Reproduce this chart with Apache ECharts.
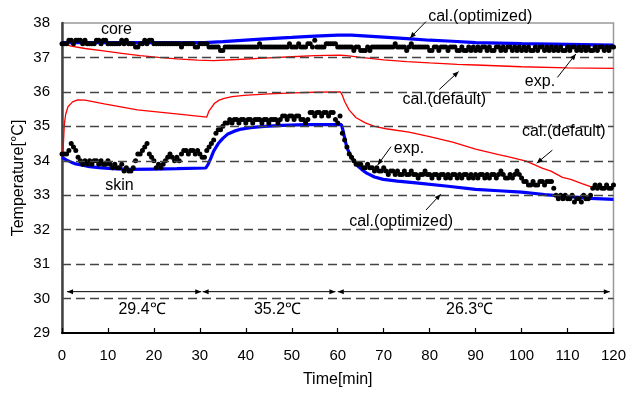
<!DOCTYPE html>
<html><head><meta charset="utf-8">
<script src="https://cdn.jsdelivr.net/npm/echarts@6/dist/echarts.min.js"></script>
<style>html,body{margin:0;padding:0;background:#fff}#c{width:629px;height:394px}</style>
</head><body><div id="c"></div>
<script>
// ---- axes ----
const xTicks = [0,10,20,30,40,50,60,70,80,90,100,110,120];
const yTicks = [29,30,31,32,33,34,35,36,37,38];
const gridLevels = [30,31,32,33,34,35,36,37];

// ---- experimental data (every 0.5 min from 0 to 120) ----
const expStep = 0.5;
const skinExp = [
34.2,34.2,34.2,34.3,34.5,34.4,34.3,34.1,34.0,33.9,
34.0,33.9,34.0,33.9,34.0,34.0,33.9,34.0,33.9,33.9,
34.0,33.9,33.8,33.9,33.8,33.8,33.9,33.7,33.8,33.7,
33.7,33.8,34.0,34.2,34.2,34.3,34.4,34.5,34.2,34.1,
34.0,33.8,33.9,33.8,33.9,34.0,34.1,34.2,34.1,34.0,
34.1,34.0,34.2,34.3,34.3,34.2,34.3,34.3,34.2,34.3,
34.2,34.1,34.1,34.3,34.4,34.5,34.6,34.8,34.9,34.9,
35.0,35.1,35.1,35.2,35.1,35.2,35.2,35.1,35.2,35.2,
35.1,35.2,35.2,35.1,35.2,35.2,35.2,35.1,35.2,35.2,
35.1,35.2,35.2,35.2,35.1,35.2,35.3,35.3,35.2,35.3,
35.3,35.2,35.3,35.3,35.2,35.2,35.1,35.2,35.4,35.4,
35.3,35.4,35.4,35.3,35.4,35.4,35.3,35.4,35.4,35.2,
35.1,35.3,34.8,34.6,34.4,34.2,34.1,34.0,33.9,33.9,
33.9,33.8,33.8,33.9,33.8,33.8,33.7,33.8,33.7,33.7,
33.8,33.7,33.6,33.7,33.7,33.6,33.7,33.6,33.6,33.7,
33.6,33.6,33.7,33.6,33.6,33.5,33.6,33.6,33.7,33.6,
33.6,33.5,33.6,33.6,33.5,33.6,33.6,33.5,33.6,33.5,
33.6,33.6,33.5,33.6,33.5,33.6,33.6,33.5,33.6,33.5,
33.6,33.5,33.6,33.6,33.5,33.6,33.5,33.6,33.6,33.5,
33.6,33.7,33.6,33.5,33.5,33.6,33.5,33.6,33.7,33.6,
33.5,33.4,33.4,33.3,33.3,33.4,33.3,33.3,33.4,33.4,
33.3,33.4,33.4,33.4,33.2,33.0,32.9,33.0,32.9,33.0,
32.9,32.9,33.0,32.8,32.9,32.9,32.8,33.0,32.9,32.9,
33.0,33.2,33.3,33.2,33.3,33.2,33.2,33.3,33.2,33.2,
33.3];
const coreExp = [
37.4,37.4,37.4,37.5,37.5,37.4,37.5,37.5,37.5,37.4,
37.5,37.4,37.4,37.4,37.4,37.5,37.5,37.4,37.5,37.5,
37.4,37.4,37.4,37.4,37.4,37.4,37.5,37.4,37.5,37.4,
37.4,37.4,37.3,37.3,37.4,37.4,37.5,37.4,37.5,37.5,
37.4,37.4,37.4,37.4,37.4,37.4,37.4,37.4,37.4,37.4,
37.4,37.4,37.3,37.4,37.4,37.4,37.4,37.4,37.3,37.3,
37.4,37.4,37.4,37.4,37.3,37.3,37.3,37.3,37.3,37.2,
37.2,37.3,37.3,37.3,37.3,37.3,37.3,37.3,37.3,37.3,
37.3,37.3,37.3,37.3,37.3,37.3,37.4,37.3,37.3,37.3,
37.3,37.3,37.3,37.3,37.3,37.3,37.3,37.3,37.3,37.4,
37.3,37.3,37.3,37.4,37.3,37.3,37.3,37.4,37.4,37.3,
37.5,37.3,37.3,37.3,37.3,37.4,37.4,37.4,37.4,37.4,
37.3,37.3,37.3,37.3,37.3,37.3,37.3,37.2,37.3,37.3,
37.2,37.2,37.2,37.3,37.2,37.3,37.3,37.3,37.3,37.3,
37.3,37.3,37.3,37.3,37.3,37.4,37.3,37.3,37.3,37.3,
37.2,37.3,37.4,37.3,37.3,37.3,37.3,37.3,37.3,37.3,
37.2,37.2,37.3,37.3,37.2,37.3,37.3,37.3,37.2,37.3,
37.3,37.3,37.2,37.2,37.3,37.2,37.2,37.3,37.2,37.3,
37.2,37.3,37.2,37.3,37.3,37.2,37.3,37.2,37.2,37.3,
37.3,37.2,37.3,37.2,37.3,37.3,37.2,37.3,37.2,37.3,
37.2,37.3,37.2,37.3,37.2,37.2,37.3,37.2,37.3,37.3,
37.2,37.3,37.2,37.3,37.2,37.3,37.2,37.3,37.2,37.2,
37.3,37.2,37.3,37.3,37.2,37.3,37.2,37.3,37.2,37.3,
37.2,37.2,37.3,37.2,37.3,37.3,37.2,37.3,37.2,37.3,
37.3];

// ---- calculated curves ----
const skinDefaultT = [0,0.2,0.5,0.8,1.3,2.3,3.4,5,9.2,16.4,25.9,31.5,32,33.2,34.2,35.3,37,39.6,45,50.5,55,60.6,61,61.5,62.5,64,66,68,70.5,75.5,80,85,90,95,97,101,104.6,106.4,108.9,110.7,113.3,115,117,120];
const skinDefaultV = [34.1,34.2,35.05,35.35,35.57,35.71,35.77,35.76,35.65,35.48,35.35,35.27,35.45,35.67,35.76,35.81,35.86,35.9,35.94,35.97,35.99,36.0,35.9,35.72,35.47,35.25,35.1,35.0,34.93,34.83,34.7,34.54,34.34,34.18,34.12,33.99,33.78,33.7,33.52,33.46,33.33,33.25,33.21,33.2];
const skinOptT = [0,1,2,3,4.5,6,8,11,15,20,25,31.3,31.8,32.3,33,34,35,36.1,37.5,39,41,44,48,53,60.8,61.2,61.6,62,62.6,63.1,64,64.5,65.5,66.3,68,69.9,73,77,84,90,95,100,105,111,115,120];
const skinOptV = [34.1,34.02,33.96,33.91,33.87,33.83,33.8,33.77,33.75,33.76,33.77,33.79,33.9,34.05,34.28,34.5,34.65,34.78,34.86,34.92,34.96,35.0,35.03,35.05,35.05,34.85,34.6,34.38,34.2,34.07,33.9,33.83,33.72,33.64,33.53,33.46,33.41,33.36,33.26,33.17,33.13,33.09,33.02,32.95,32.91,32.88];
const coreDefaultT = [0,2,5,9,13,17,21,25,29.5,33,38,44,50,55,60.5,62,65,70,75,80,86,90,100,110,120];
const coreDefaultV = [37.4,37.33,37.26,37.19,37.12,37.05,37.0,36.96,36.92,36.91,36.94,36.98,37.02,37.05,37.07,37.05,37.0,36.93,36.88,36.84,36.8,36.78,36.73,36.7,36.68];
const coreOptT = [0,31,35,43.3,50,55,60,63,66.5,70,75.9,80,85,90,100,110,120];
const coreOptV = [37.43,37.43,37.46,37.53,37.58,37.62,37.65,37.65,37.62,37.59,37.54,37.5,37.47,37.43,37.4,37.38,37.36];

// ---- annotations (data coordinates) ----
const rangeLevel = 30.2;
const rangeStart = [1.1, 30.6, 60];
const rangeEnd = [30.3, 59.5, 119.2];
const rangeText = ['29.4℃', '35.2℃', '26.3℃'];
const rangeTextT = [17.4, 46.9, 88.7];
const rangeTextV = 29.67;
const noteText = ['core','skin','cal.(optimized)','exp.','cal.(default)','cal.(default)','exp.','cal.(optimized)'];
const noteT = [11.85,12.5,91,104,83.2,109.2,75.5,73.8];
const noteV = [37.8,33.27,38.2,36.29,35.79,34.84,34.34,32.22];
const arrowFrom = [null,null,[79.2,38.04],[107.8,36.42],[82.1,36.07],[106.7,34.31],[71.6,34.41],[79.2,32.57]];
const arrowTo   = [null,null,[75.7,37.56],[111.8,37.1],[86.3,36.59],[103.3,33.93],[68.7,33.88],[82.4,33.03]];

const pairs = (T, V) => T.map((t, i) => [t, V[i]]);
const expPairs = V => V.map((v, i) => [i * expStep, v]);
const FONT = '"Liberation Sans", Arial, sans-serif';

const chart = echarts.init(document.getElementById('c'), null, {renderer: 'canvas'});
chart.setOption({
  animation: false,
  backgroundColor: '#fff',
  grid: {left: 62, right: 15, top: 23, bottom: 61, show: true, borderColor: '#999', borderWidth: 1.5, backgroundColor: 'transparent'},
  xAxis: {
    type: 'value', min: xTicks[0], max: xTicks[xTicks.length - 1], interval: xTicks[1] - xTicks[0],
    name: 'Time[min]', nameLocation: 'middle', nameGap: 39, nameMoveOverlap: false,
    nameTextStyle: {fontFamily: FONT, fontSize: 16, color: '#000'},
    axisLine: {lineStyle: {color: '#000', width: 2}},
    axisTick: {inside: true, length: 5, lineStyle: {color: '#000', width: 1.2}},
    axisLabel: {fontFamily: FONT, fontSize: 15, color: '#000', margin: 15},
    splitLine: {show: false}
  },
  yAxis: {
    type: 'value', min: yTicks[0], max: yTicks[yTicks.length - 1], interval: yTicks[1] - yTicks[0],
    name: 'Temperature[°C]', nameLocation: 'middle', nameGap: 35, nameMoveOverlap: false,
    nameTextStyle: {fontFamily: FONT, fontSize: 16, color: '#000'},
    axisLine: {show: true, lineStyle: {color: '#444', width: 2.5}},
    axisTick: {show: false},
    axisLabel: {fontFamily: FONT, fontSize: 15, color: '#000', margin: 12},
    splitLine: {show: false}
  },
  series: [
    {type: 'line', data: [], silent: true, z: 1,
     markLine: {silent: true, symbol: 'none', label: {show: false},
       lineStyle: {type: [9, 5], color: '#444', width: 1.4},
       data: gridLevels.map(v => ({yAxis: v}))}},
    {type: 'line', data: pairs(coreDefaultT, coreDefaultV), showSymbol: false, lineStyle: {color: '#ff0000', width: 1.3}, z: 2},
    {type: 'line', data: pairs(skinDefaultT, skinDefaultV), showSymbol: false, lineStyle: {color: '#ff0000', width: 1.3}, z: 2},
    {type: 'line', data: pairs(coreOptT, coreOptV), showSymbol: false, lineStyle: {color: '#0000ff', width: 3.2}, z: 3},
    {type: 'line', data: pairs(skinOptT, skinOptV), showSymbol: false, lineStyle: {color: '#0000ff', width: 3.2}, z: 3},
    {type: 'scatter', data: expPairs(coreExp), symbolSize: 5, itemStyle: {color: '#000', opacity: 1}, z: 4},
    {type: 'scatter', data: expPairs(skinExp), symbolSize: 5, itemStyle: {color: '#000', opacity: 1}, z: 4}
  ]
});

function px(t, v) { return chart.convertToPixel({xAxisIndex: 0, yAxisIndex: 0}, [t, v]); }
function head(p0, p1, len, hw) {
  const dx = p1[0] - p0[0], dy = p1[1] - p0[1], L = Math.hypot(dx, dy) || 1;
  const ux = dx / L, uy = dy / L;
  const bx = p1[0] - ux * len, by = p1[1] - uy * len;
  return {type: 'polygon', shape: {points: [[p1[0], p1[1]], [bx - uy * hw, by + ux * hw], [bx + uy * hw, by - ux * hw]]}, style: {fill: '#000'}, z: 10};
}
function seg(p0, p1) {
  return {type: 'line', shape: {x1: p0[0], y1: p0[1], x2: p1[0], y2: p1[1]}, style: {stroke: '#000', lineWidth: 1}, z: 10};
}
const g = [];
rangeStart.forEach((s, i) => {
  const a = px(s, rangeLevel), b = px(rangeEnd[i], rangeLevel);
  g.push(seg(a, b), head(b, a, 6, 2.5), head(a, b, 6, 2.5));
  const c = px(rangeTextT[i], rangeTextV);
  g.push({type: 'text', x: c[0], y: c[1], style: {text: rangeText[i], font: '16px ' + FONT, fill: '#000', align: 'center', verticalAlign: 'middle'}, z: 10});
});
noteText.forEach((txt, i) => {
  const c = px(noteT[i], noteV[i]);
  g.push({type: 'text', x: c[0], y: c[1], style: {text: txt, font: '16px ' + FONT, fill: '#000', align: 'center', verticalAlign: 'middle'}, z: 10});
  if (arrowFrom[i]) {
    const a = px(arrowFrom[i][0], arrowFrom[i][1]), b = px(arrowTo[i][0], arrowTo[i][1]);
    g.push(seg(a, b), head(a, b, 6, 2.5));
  }
});
chart.setOption({graphic: g});
</script>
</body></html>
